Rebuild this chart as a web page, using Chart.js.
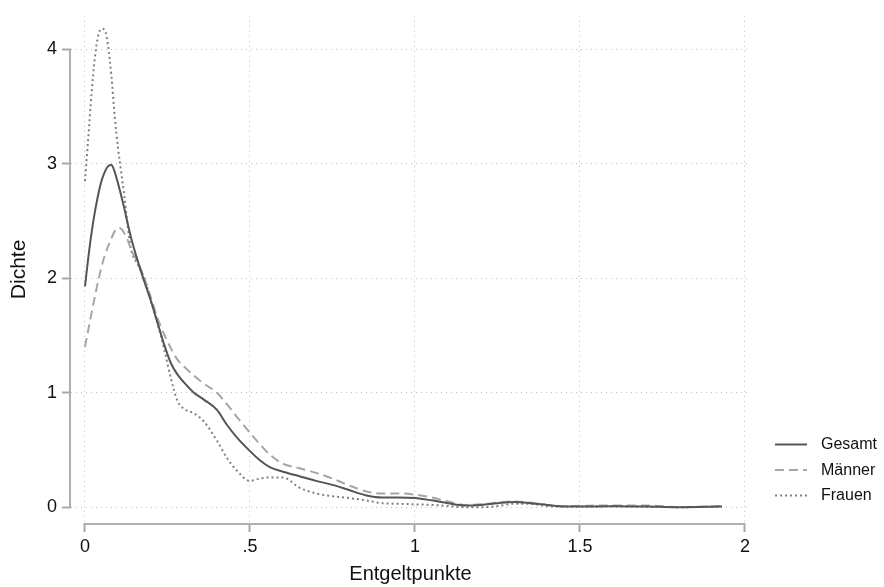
<!DOCTYPE html>
<html><head><meta charset="utf-8">
<script src="https://cdn.jsdelivr.net/npm/chart.js@4"></script>
<style>html,body{margin:0;padding:0;background:#fff}#wrap{width:884px;height:587px}</style>
</head><body><div id="wrap"><canvas id="c" width="884" height="587"></canvas></div>
<script>
// ---- data ----
const xValues = [0,0.01,0.02,0.03,0.04,0.05,0.06,0.07,0.08,0.09,0.10,0.11,0.12,0.13,0.14,0.16,0.18,0.20,0.22,0.24,0.26,0.28,0.30,0.33,0.36,0.40,0.43,0.46,0.50,0.53,0.56,0.60,0.65,0.70,0.75,0.80,0.85,0.90,0.95,1.00,1.05,1.10,1.15,1.20,1.25,1.30,1.35,1.40,1.45,1.50,1.60,1.70,1.80,1.93];
const gesamt  = [1.93,2.18,2.40,2.58,2.73,2.85,2.93,2.98,2.99,2.93,2.83,2.72,2.60,2.47,2.35,2.15,1.97,1.80,1.61,1.42,1.26,1.16,1.09,1.00,0.94,0.85,0.72,0.61,0.49,0.41,0.35,0.31,0.27,0.23,0.195,0.15,0.105,0.085,0.085,0.08,0.06,0.035,0.015,0.02,0.035,0.045,0.035,0.02,0.005,0.005,0.008,0.005,0.0,0.005];
const maenner = [1.40,1.55,1.70,1.84,1.98,2.10,2.20,2.28,2.35,2.41,2.44,2.43,2.39,2.33,2.25,2.14,2.00,1.83,1.65,1.51,1.39,1.29,1.23,1.15,1.08,1.00,0.90,0.79,0.65,0.55,0.46,0.38,0.34,0.30,0.25,0.19,0.14,0.12,0.12,0.11,0.085,0.05,0.02,0.025,0.04,0.05,0.04,0.02,0.01,0.012,0.015,0.015,0.0,0.01];
const frauen  = [2.85,3.23,3.62,3.93,4.12,4.18,4.17,4.03,3.77,3.42,3.14,2.92,2.70,2.44,2.25,2.12,2.00,1.80,1.60,1.38,1.13,0.93,0.86,0.82,0.75,0.58,0.43,0.32,0.23,0.25,0.26,0.26,0.17,0.12,0.095,0.08,0.06,0.035,0.03,0.025,0.02,0.01,0.0,0.0,0.01,0.03,0.03,0.01,0.005,0.005,0.01,0.005,0.0,0.005];
const seriesNames = ['Gesamt','Männer','Frauen'];
const xTicks = [0,0.5,1,1.5,2];
const xTickLabels = ['0','.5','1','1.5','2'];
const yTicks = [0,1,2,3,4];
const yTickLabels = ['0','1','2','3','4'];
const xTitle = 'Entgeltpunkte';
const yTitle = 'Dichte';

const FONT = '"Liberation Sans", Arial, sans-serif';
const toPts = (ys) => xValues.map((x,i)=>({x:x,y:ys[i]}));

const axisLines = {
  id:'axisLines',
  beforeDatasetsDraw(chart){
    const {ctx, chartArea, scales:{x,y}} = chart;
    ctx.save();
    ctx.strokeStyle = '#b0b0b0'; ctx.lineWidth = 2; ctx.setLineDash([]);
    ctx.beginPath();
    ctx.moveTo(chartArea.left - 1, y.getPixelForValue(yTicks[yTicks.length-1]));
    ctx.lineTo(chartArea.left - 1, y.getPixelForValue(yTicks[0]));
    ctx.moveTo(x.getPixelForValue(xTicks[0]), chartArea.bottom + 1);
    ctx.lineTo(x.getPixelForValue(xTicks[xTicks.length-1]), chartArea.bottom + 1);
    ctx.stroke();
    ctx.restore();
  }
};
const legendPlugin = {
  id:'customLegend',
  afterDraw(chart){
    const {ctx, chartArea} = chart;
    const x0 = chartArea.right + 25;
    chart.data.datasets.forEach((ds,i)=>{
      const yy = 444.5 + i*25.5;
      ctx.save();
      ctx.strokeStyle = ds.borderColor; ctx.lineWidth = ds.borderWidth;
      ctx.setLineDash(ds.borderDash || []);
      ctx.beginPath(); ctx.moveTo(x0, yy); ctx.lineTo(x0+32, yy); ctx.stroke();
      ctx.setLineDash([]);
      ctx.fillStyle = '#111'; ctx.font = '16px ' + FONT; ctx.textBaseline = 'middle'; ctx.textAlign = 'left';
      ctx.fillText(ds.label, x0 + 46, yy + 0.5);
      ctx.restore();
    });
  }
};

new Chart(document.getElementById('c'), {
  type:'line',
  data:{datasets:[
    {label:seriesNames[0], data:toPts(gesamt), borderColor:'#555555', borderWidth:2, pointRadius:0, cubicInterpolationMode:'monotone', fill:false},
    {label:seriesNames[1], data:toPts(maenner), borderColor:'#a6a6a6', borderWidth:2, borderDash:[9,5], pointRadius:0, cubicInterpolationMode:'monotone', fill:false},
    {label:seriesNames[2], data:toPts(frauen), borderColor:'#808080', borderWidth:2, borderDash:[2,3], pointRadius:0, cubicInterpolationMode:'monotone', fill:false}
  ]},
  options:{
    responsive:false, animation:false, devicePixelRatio:1,
    layout:{padding:{top:10, right:134, left:0, bottom:0}},
    plugins:{legend:{display:false}, tooltip:{enabled:false}},
    scales:{
      x:{type:'linear', min:-0.0424, max:2.0152,
        afterBuildTicks:(s)=>{ s.ticks = xTicks.map(v=>({value:v})); },
        afterFit:(s)=>{ s.height = 64; },
        ticks:{callback:(v)=>{const i=xTicks.indexOf(v); return i>=0?xTickLabels[i]:'';}, font:{family:FONT,size:18}, color:'#111', padding:4, maxRotation:0, autoSkip:false},
        grid:{color:'#bdbdbd', lineWidth:1, drawTicks:true, tickLength:9, tickColor:'#a8a8a8', tickWidth:2, tickBorderDash:[]},
        border:{display:false, dash:[1,4]},
        title:{display:true, text:xTitle, font:{family:FONT,size:20}, color:'#111', padding:{top:0,bottom:0.5}}
      },
      y:{type:'linear', min:-0.1382, max:4.2937,
        afterBuildTicks:(s)=>{ s.ticks = yTicks.map(v=>({value:v})); },
        afterFit:(s)=>{ s.width = 71; },
        ticks:{callback:(v)=>{const i=yTicks.indexOf(v); return i>=0?yTickLabels[i]:'';}, font:{family:FONT,size:18}, color:'#111', padding:5, autoSkip:false},
        grid:{color:'#bdbdbd', lineWidth:1, drawTicks:true, tickLength:9, tickColor:'#a8a8a8', tickWidth:2, tickBorderDash:[]},
        border:{display:false, dash:[1,4]},
        title:{display:true, text:yTitle, font:{family:FONT,size:21}, color:'#111', padding:{top:7,bottom:0}}
      }
    }
  },
  plugins:[axisLines, legendPlugin]
});
</script>
</body></html>
